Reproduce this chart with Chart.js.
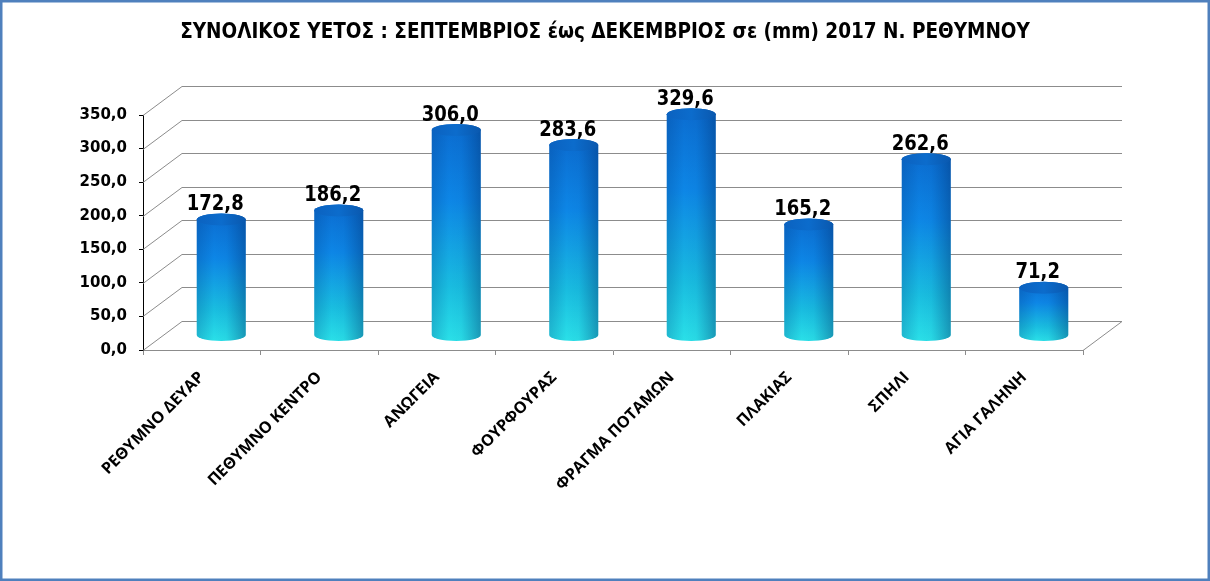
<!DOCTYPE html>
<html>
<head>
<meta charset="utf-8">
<script src="https://cdn.jsdelivr.net/npm/chart.js@4.4.0/dist/chart.umd.min.js"></script>
<style>
  html, body { margin: 0; padding: 0; background: #fff; }
  #wrap { width: 1210px; height: 581px; }
</style>
</head>
<body>
<div id="wrap"><canvas id="container" width="1210" height="581"></canvas></div>
<script>
// σταθμοί και συνολικό ύψος βροχής (mm)
const stations = ['ΡΕΘΥΜΝΟ ΔΕΥΑΡ', 'ΠΕΘΥΜΝΟ ΚΕΝΤΡΟ', 'ΑΝΩΓΕΙΑ', 'ΦΟΥΡΦΟΥΡΑΣ', 'ΦΡΑΓΜΑ ΠΟΤΑΜΩΝ', 'ΠΛΑΚΙΑΣ', 'ΣΠΗΛΙ', 'ΑΓΙΑ ΓΑΛΗΝΗ'];
const rainfall = [172.8, 186.2, 306.0, 283.6, 329.6, 165.2, 262.6, 71.2];
const yTicks = [0, 50, 100, 150, 200, 250, 300, 350];
const chartTitle = 'ΣΥΝΟΛΙΚΟΣ ΥΕΤΟΣ : ΣΕΠΤΕΜΒΡΙΟΣ έως ΔΕΚΕΜΒΡΙΟΣ σε (mm) 2017 Ν. ΡΕΘΥΜΝΟΥ';

// βάθος της ψευδο-3Δ προβολής
const DX = 39, DY = -29;

function fmt(v) {
    return v.toFixed(1).replace('.', ',');
}

const walls3d = {
    id: 'walls3d',
    beforeDraw(chart) {
        const c = chart.ctx;
        c.save();
        c.fillStyle = '#fff';
        c.fillRect(0, 0, chart.width, chart.height);
        c.strokeStyle = '#4f80bd';
        c.lineWidth = 2.5;
        c.strokeRect(1.25, 1.25, chart.width - 2.5, chart.height - 2.5);

        // τίτλος στο κέντρο όλου του καμβά
        c.fillStyle = '#000';
        c.font = 'bold 20.5px "DejaVu Sans Condensed", "DejaVu Sans", sans-serif';
        c.textAlign = 'center';
        c.textBaseline = 'middle';
        c.fillText(chartTitle, chart.width / 2, 33);
        c.restore();
    },
    beforeDatasetsDraw(chart) {
        const c = chart.ctx, y = chart.scales.y, a = chart.chartArea;
        c.save();
        c.strokeStyle = '#8c8c8c';
        c.lineWidth = 1;
        y.ticks.forEach(function (t, i) {
            const py = Math.round(y.getPixelForTick(i)) + 0.5;
            c.beginPath();
            c.moveTo(a.left, py);
            c.lineTo(a.left + DX, py + DY);
            c.lineTo(a.right + DX, py + DY);
            c.stroke();
        });
        c.beginPath();
        c.moveTo(a.right, a.bottom + 0.5);
        c.lineTo(a.right + DX, a.bottom + DY + 0.5);
        c.stroke();
        c.restore();
    },
    afterDatasetsDraw(chart) {
        const c = chart.ctx;
        const meta = chart.getDatasetMeta(0);
        const vals = chart.data.datasets[0].data;
        c.save();
        meta.data.forEach(function (bar, i) {
            const cx = bar.x + DX / 2;
            const top = bar.y + DY / 2;
            const base = bar.base + DY / 2;
            const rx = bar.width / 2, ry = 6;

            // σώμα κυλίνδρου
            c.beginPath();
            c.moveTo(cx - rx, top);
            c.lineTo(cx - rx, base);
            c.ellipse(cx, base, rx, ry, 0, Math.PI, 0, true);
            c.lineTo(cx + rx, top);
            c.ellipse(cx, top, rx, ry, 0, 0, Math.PI, true);
            c.closePath();
            const g = c.createLinearGradient(0, top - ry, 0, base + ry);
            g.addColorStop(0, '#0b6cd0');
            g.addColorStop(0.35, '#0d86e6');
            g.addColorStop(0.75, '#19bde0');
            g.addColorStop(1, '#2ae0e8');
            c.fillStyle = g;
            c.fill();
            const h = c.createLinearGradient(cx - rx, 0, cx + rx, 0);
            h.addColorStop(0, 'rgba(0,50,120,0.22)');
            h.addColorStop(0.35, 'rgba(0,50,120,0)');
            h.addColorStop(0.6, 'rgba(0,50,120,0.04)');
            h.addColorStop(1, 'rgba(0,40,100,0.38)');
            c.fillStyle = h;
            c.fill();

            // καπάκι
            c.beginPath();
            c.ellipse(cx, top, rx, ry, 0, 0, Math.PI * 2);
            const t = c.createLinearGradient(cx - rx, 0, cx + rx, 0);
            t.addColorStop(0, '#0b62c0');
            t.addColorStop(0.5, '#0c6ccc');
            t.addColorStop(1, '#0a58ae');
            c.fillStyle = t;
            c.fill();

            // ετικέτα τιμής
            c.save();
            c.fillStyle = '#000';
            c.font = 'bold 18px "DejaVu Sans"';
            c.textAlign = 'center';
            c.textBaseline = 'alphabetic';
            c.translate(cx - 6, top - 9.5);
            c.scale(1, 1.18);
            c.fillText(fmt(vals[i]), 0, 0);
            c.restore();
        });
        c.restore();
    }
};

const ctx = document.getElementById('container').getContext('2d');

var chart = new Chart(ctx, {
    type: 'bar',
    data: {
        labels: stations,
        datasets: [{
            data: rainfall,
            backgroundColor: 'rgba(0,0,0,0)',
            borderWidth: 0,
            barPercentage: 0.417,
            categoryPercentage: 1
        }]
    },
    options: {
        responsive: false,
        animation: false,
        layout: {
            padding: { left: 0, top: 115, right: 127, bottom: 0 }
        },
        plugins: {
            legend: { display: false },
            tooltip: { enabled: false },
            title: { display: false }
        },
        scales: {
            x: {
                grid: { drawOnChartArea: false, drawTicks: true, tickLength: 5, color: '#8c8c8c', offset: true },
                border: { display: true, color: '#8c8c8c', width: 1 },
                ticks: {
                    autoSkip: false,
                    maxRotation: 45,
                    minRotation: 45,
                    padding: 13,
                    color: '#000',
                    font: { family: '"Open Sans", sans-serif', size: 16, weight: 'bold' }
                },
                afterFit: function (s) { s.height = 231; }
            },
            y: {
                min: yTicks[0],
                max: yTicks[yTicks.length - 1],
                afterBuildTicks: function (s) {
                    s.ticks = yTicks.map(function (v) { return { value: v }; });
                },
                grid: { drawOnChartArea: false, drawTicks: true, tickLength: 4, color: '#000' },
                border: { display: true, color: '#000', width: 1 },
                ticks: {
                    padding: 12,
                    color: '#000',
                    font: { family: '"DejaVu Sans", sans-serif', size: 15, weight: 'bold' },
                    callback: function (v) { return fmt(v); }
                },
                afterFit: function (s) { s.width = 143; }
            }
        }
    },
    plugins: [walls3d]
});
</script>
</body>
</html>
